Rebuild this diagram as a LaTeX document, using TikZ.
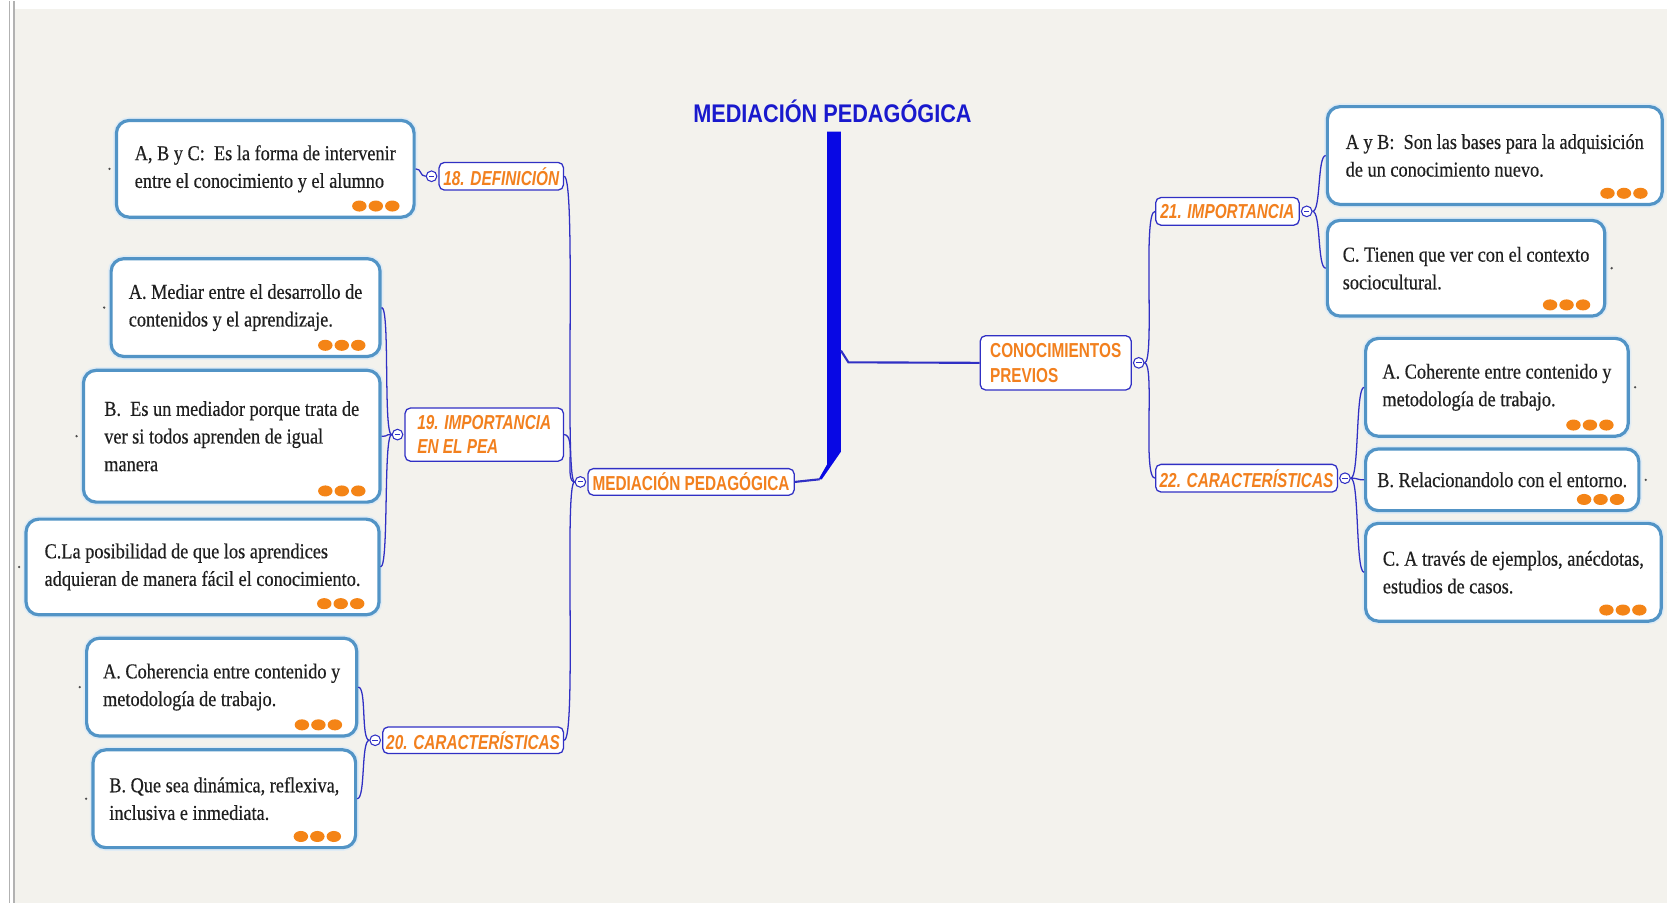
\documentclass[tikz,border=0pt]{standalone}
\usepackage{fontspec}
\setmainfont{Liberation Serif}
\newfontfamily\leaffont{Liberation Serif}[FakeStretch=0.86, FakeBold=0.4]
\newfontfamily\labfont{Liberation Sans}[FakeStretch=0.76]
\newfontfamily\titlefont{Liberation Sans}[FakeStretch=0.85]
\usetikzlibrary{positioning,calc}

\definecolor{bgcol}{RGB}{243,242,237}
\definecolor{titlecol}{RGB}{25,25,205}
\definecolor{barcol}{RGB}{8,8,228}
\definecolor{conncol}{RGB}{48,48,196}
\definecolor{labcol}{RGB}{242,128,30}
\definecolor{leafcol}{RGB}{82,148,198}
\definecolor{dotcol}{RGB}{244,132,22}

\tikzset{
  leaf/.style={draw=leafcol, line width=1.5pt, rounded corners=6pt, fill=white,
    preaction={draw=leafcol!18, line width=3pt},
    anchor=north west, inner sep=0pt, align=left,
    font=\leaffont\fontsize{10pt}{13pt}\selectfont, text=black!88},
  lab/.style={draw=conncol, line width=0.6pt, rounded corners=2.5pt, fill=white,
    inner sep=0pt, align=left, text=labcol,
    font=\labfont\bfseries\itshape\fontsize{9.5pt}{11.5pt}\selectfont},
  labup/.style={lab, font=\labfont\bfseries\fontsize{9.5pt}{11.5pt}\selectfont},
  tog/.style={circle, draw=conncol, fill=white, line width=0.5pt, inner sep=0pt, minimum size=5pt,
    path picture={\draw[conncol, line width=0.5pt]
      ([xshift=1.2pt]path picture bounding box.west) -- ([xshift=-1.2pt]path picture bounding box.east);}},
  conn/.style={draw=conncol, line width=0.6pt},
}

\begin{document}
\begin{tikzpicture}[x=0.5pt,y=0.5pt,yscale=-1]

% Background
\fill[white] (0,0) rectangle (1568,849);
\fill[bgcol] (14,8) rectangle (1568,849);
\draw[gray!60, line width=0.8pt] (9,0) -- (9,849);
\draw[gray!60, line width=0.8pt] (13,0) -- (13,849);
\useasboundingbox (0,0) rectangle (1568,849);

% Title and main bar
\node[font=\titlefont\bfseries\fontsize{12pt}{14pt}\selectfont, text=titlecol] (title) at (783,104) {MEDIACIÓN PEDAGÓGICA};
\fill[barcol] (778,123) -- (791,123) -- (791,424) -- (773,450) -- (770,450) -- (778,436) -- cycle;
\coordinate (barfoot) at (771,450);
\coordinate (barside) at (791,329);
\coordinate (barkink) at (798,340);

% Branch nodes
\node[labup, minimum width=97pt, minimum height=12.5pt] (mp) at (650,452.5) {MEDIACIÓN PEDAGÓGICA};
\node[labup, minimum width=71pt, minimum height=25.5pt] (cp) at (993,340.5) {CONOCIMIENTOS\\PREVIOS};

\node[lab, minimum width=58.5pt, minimum height=13pt] (def) at (471.5,165) {18. DEFINICIÓN};
\node[lab, minimum width=74.5pt, minimum height=25pt] (imp) at (455.5,408) {19. IMPORTANCIA\\EN EL PEA};
\node[lab, minimum width=85pt, minimum height=12.5pt] (car) at (445,695.5) {20. CARACTERÍSTICAS};
\node[lab, minimum width=67.5pt, minimum height=13pt] (impr) at (1154.5,198) {21. IMPORTANCIA};
\node[lab, minimum width=85.5pt, minimum height=13pt] (carr) at (1172.5,449) {22. CARACTERÍSTICAS};

% Toggles
\node[tog, left=0.5pt of mp] (tmp) {};
\node[tog, left=0.5pt of def] (tdef) {};
\node[tog, left=0.5pt of imp] (timp) {};
\node[tog, left=0.5pt of car] (tcar) {};
\node[tog, right=0.5pt of cp] (tcp) {};
\node[tog, right=0.5pt of impr] (timpr) {};
\node[tog, right=0.5pt of carr] (tcarr) {};

% Leaves, left side
\node[leaf, minimum width=140pt, minimum height=45.5pt] (l1) at (108,111) {A, B y C:\ \ Es la forma de intervenir\\entre el conocimiento y el alumno};
\node[leaf, minimum width=126.5pt, minimum height=46pt] (l2) at (103,241) {A. Mediar entre el desarrollo de\\contenidos y el aprendizaje.};
\node[leaf, minimum width=139.5pt, minimum height=62pt] (l3) at (77,346) {B.\ \ Es un mediador porque trata de\\ver si todos aprenden de igual\\manera};
\node[leaf, minimum width=166pt, minimum height=45pt] (l4) at (23,486) {C.La posibilidad de que los aprendices\\adquieran de manera fácil el conocimiento.};
\node[leaf, minimum width=127pt, minimum height=46pt] (l5) at (80,598) {A. Coherencia entre contenido y\\metodología de trabajo.};
\node[leaf, minimum width=123.5pt, minimum height=46pt] (l6) at (86,703) {B. Que sea dinámica, reflexiva,\\inclusiva e inmediata.};

% Leaves, right side
\node[leaf, minimum width=157.5pt, minimum height=46pt] (r1) at (1247,98) {A y B:\ \ Son las bases para la adquisición\\de un conocimiento nuevo.};
\node[leaf, minimum width=130.5pt, minimum height=45pt] (r2) at (1247,205) {C. Tienen que ver con el contexto\\sociocultural.};
\node[leaf, minimum width=123.5pt, minimum height=46pt] (r3) at (1283,316) {A. Coherente entre contenido y\\metodología de trabajo.};
\node[leaf, minimum width=128.5pt, minimum height=29pt] (r4) at (1283,420) {B. Relacionandolo con el entorno.};
\node[leaf, minimum width=139pt, minimum height=46pt] (r5) at (1283,490) {C. A través de ejemplos, anécdotas,\\estudios de casos.};

% Connectors
\draw[conn, line width=1pt] (mp.east) -- (barfoot);
\draw[conn, line width=1pt] (barside) -- (barkink) -- (cp.west);
\foreach \n in {def,imp,car}
  \draw[conn] (tmp.west) .. controls +(-10,0) and +(12,0) .. (\n.east);
\draw[conn] (tdef.west) .. controls +(-6,0) and +(6,0) .. (l1.east);
\foreach \n in {l2,l3,l4}
  \draw[conn] (timp.west) .. controls +(-8,0) and +(8,0) .. (\n.east);
\foreach \n in {l5,l6}
  \draw[conn] (tcar.west) .. controls +(-8,0) and +(8,0) .. (\n.east);
\foreach \n in {impr,carr}
  \draw[conn] (tcp.east) .. controls +(10,0) and +(-12,0) .. (\n.west);
\foreach \n in {r1,r2}
  \draw[conn] (timpr.east) .. controls +(8,0) and +(-8,0) .. (\n.west);
\foreach \n in {r3,r4,r5}
  \draw[conn] (tcarr.east) .. controls +(8,0) and +(-8,0) .. (\n.west);

% More-dots and stubs
\foreach \n in {l1,l2,l3,l4,l5,l6,r1,r2,r3,r4,r5}
  \foreach \i in {0,1,2}
    \fill[dotcol] ($(\n.south east)+(-22-15.5*\i,-12)$) ellipse [x radius=3.4pt, y radius=2.6pt];
\foreach \n in {l1,l2,l3,l4,l5,l6}
  \fill[black!70] ($(\n.west)+(-5,0)$) circle (0.6pt);
\foreach \n in {r1,r2,r3,r4,r5}
  \fill[black!70] ($(\n.east)+(5,0)$) circle (0.6pt);

\end{tikzpicture}
\end{document}
